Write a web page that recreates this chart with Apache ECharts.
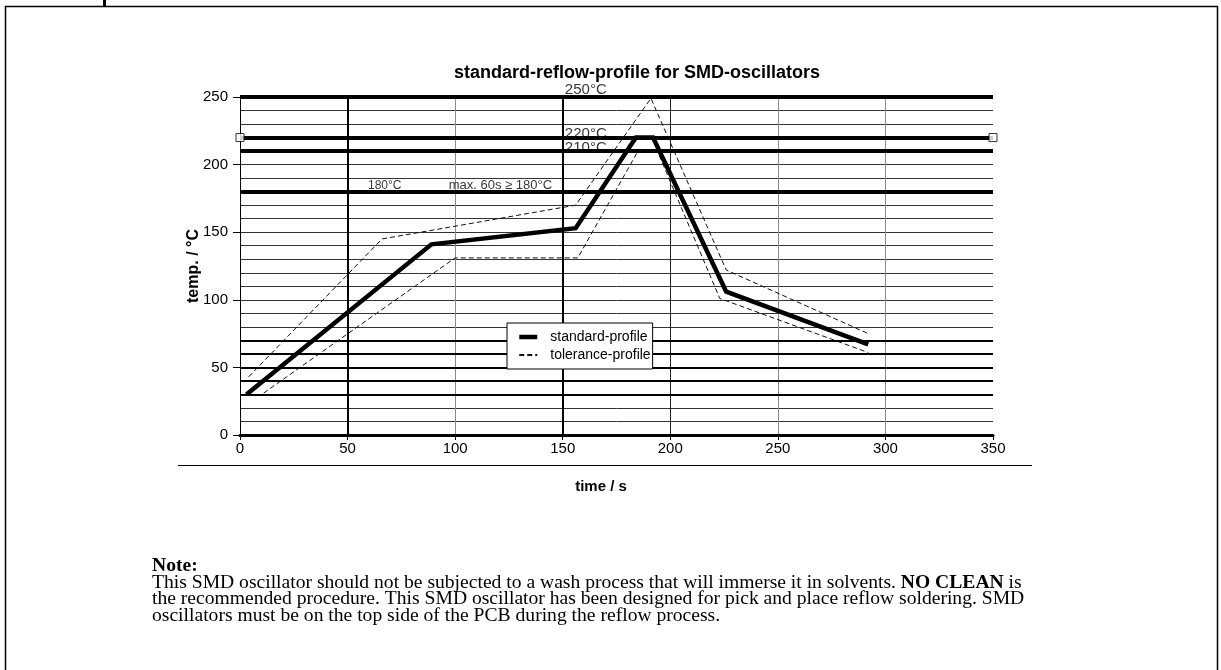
<!DOCTYPE html>
<html><head><meta charset="utf-8">
<script src="https://cdn.jsdelivr.net/npm/echarts@6/dist/echarts.min.js"></script>
<style>html,body{margin:0;padding:0;background:#fff}#c{width:1221px;height:670px}</style>
</head><body><div id="c"></div>
<script>
// ---- data ----
const timeStd  = [3, 89, 156, 184, 192, 226, 292];
const tempStd  = [30, 141, 153, 220, 220, 106, 67];
const timeUpper = [4, 66, 156, 191, 226, 292];
const tempUpper = [43, 145, 170, 249, 122, 75];
const timeLower = [11, 100, 157, 185, 194, 223, 292];
const tempLower = [31, 131, 131, 210, 210, 101, 61];
const limitTemps = [250, 220, 210, 180];
const boldTemps = [70, 60, 50, 40, 30];
const boldTimes = [50, 150];
const markerTimes = [0, 350];
const markerTemp = 220;
const annoText = ['250°C', '220°C', '210°C', '180°C', 'max. 60s ≥ 180°C'];
const annoTime = [151, 151, 151, 59.5, 97];
const annoTemp = [250, 220, 210, 180, 180];
const seriesNames = ['standard-profile', 'tolerance-profile'];
const titleText = 'standard-reflow-profile for SMD-oscillators';
const yName = 'temp. / °C';
const xName = 'time / s';
const noteTitle = 'Note:';
const noteLines = [
  'This SMD oscillator should not be subjected to a wash process that will immerse it in solvents. ',
  'NO CLEAN',
  ' is',
  'the recommended procedure. This SMD oscillator has been designed for pick and place reflow soldering. SMD',
  'oscillators must be on the top side of the PCB during the reflow process.'
];

// ---- styles ----
const SANS = "'Liberation Sans',Arial,sans-serif";
const SERIF = "'Liberation Serif','Times New Roman',serif";
const xSplitColors = ['#000', '#000', '#8a8a8a', '#000', '#222', '#8a8a8a', '#8a8a8a', 'rgba(0,0,0,0)'];
const annoSizes = [15, 15, 15, 12, 13];
const annoOffsetY = [-7, -4, -3, -6, -6];
const NOTE_FONT = 19.6;
const STD_WIDTH = 4.5;

const zip = (a, b) => a.map((v, i) => [v, b[i]]);

const chart = echarts.init(document.getElementById('c'), null, {renderer: 'canvas'});
chart.setOption({
  animation: false,
  backgroundColor: '#fff',
  grid: {left: 240, right: 228, top: 97, bottom: 235},
  legend: {
    data: [
      {name: seriesNames[0], lineStyle: {width: STD_WIDTH}},
      {name: seriesNames[1]}
    ],
    orient: 'vertical',
    left: 507, top: 323, z: 20,
    backgroundColor: '#fff',
    borderColor: '#000', borderWidth: 1, borderRadius: 0,
    padding: [7, 2, 7, 10],
    itemGap: 4,
    itemWidth: 18, itemHeight: 14,
    itemStyle: {color: 'rgba(0,0,0,0)', borderWidth: 0},
    textStyle: {fontFamily: SANS, fontSize: 14, color: '#000', padding: [0, 0, 0, 8]}
  },
  xAxis: {
    type: 'value', min: 0, max: 350, interval: 50,
    axisLine: {show: true, lineStyle: {color: '#000', width: 3}},
    axisTick: {show: true, length: 5, lineStyle: {color: '#000', width: 1}},
    axisLabel: {fontFamily: SANS, fontSize: 15, color: '#000', margin: 6},
    splitLine: {show: true, showMaxLine: false, lineStyle: {color: xSplitColors, width: 1}}
  },
  yAxis: {
    type: 'value', min: 0, max: 250, interval: 50,
    name: yName, nameLocation: 'middle', nameGap: 38, nameMoveOverlap: false,
    nameTextStyle: {fontFamily: SANS, fontWeight: 'bold', fontSize: 16, color: '#000'},
    axisLine: {show: true, lineStyle: {color: '#000', width: 1}},
    axisTick: {show: true, length: 7, lineStyle: {color: '#000'}},
    axisLabel: {fontFamily: SANS, fontSize: 15, color: '#000', margin: 12},
    splitLine: {show: true, lineStyle: {color: '#333', width: 1}},
    minorTick: {show: false, splitNumber: 5},
    minorSplitLine: {show: true, lineStyle: {color: '#333', width: 1}}
  },
  series: [
    {
      name: 'grid-lines', type: 'line', data: [], silent: true, z: 1,
      markLine: {
        silent: true, symbol: ['none', 'none'], animation: false, z: 2,
        label: {show: false},
        lineStyle: {color: '#000', width: 4, type: 'solid'},
        data: limitTemps.map(v => ({yAxis: v}))
      }
    },
    {
      name: 'grid-lines-2', type: 'line', data: [], silent: true, z: 1,
      markLine: {
        silent: true, symbol: ['none', 'none'], animation: false, z: 2,
        label: {show: false},
        lineStyle: {color: '#000', width: 2, type: 'solid'},
        data: boldTemps.map(v => ({yAxis: v})).concat(boldTimes.map(v => ({xAxis: v})))
      }
    },
    {
      name: seriesNames[1], type: 'line', data: zip(timeUpper, tempUpper),
      symbol: 'none', z: 3,
      lineStyle: {color: '#111', width: 1, type: [5, 3]}, itemStyle: {color: '#111'}
    },
    {
      name: seriesNames[1], type: 'line', data: zip(timeLower, tempLower),
      symbol: 'none', z: 3,
      lineStyle: {color: '#111', width: 1, type: [5, 3]}, itemStyle: {color: '#111'}
    },
    {
      name: seriesNames[0], type: 'line', data: zip(timeStd, tempStd),
      symbol: 'none', z: 4,
      lineStyle: {color: '#000', width: STD_WIDTH, join: 'miter'}, itemStyle: {color: '#000'}
    },
    {
      name: 'markers', type: 'scatter', z: 5, clip: false, silent: true,
      data: markerTimes.map(t => [t, markerTemp]),
      symbol: 'rect', symbolSize: 8,
      itemStyle: {color: '#fff', borderColor: '#000', borderWidth: 1}
    },
    {
      name: 'annotations', type: 'scatter', z: 6, clip: false, silent: true,
      data: annoTime.map((t, i) => ({
        value: [t, annoTemp[i]],
        label: {formatter: annoText[i], fontSize: annoSizes[i], offset: [0, annoOffsetY[i]]}
      })),
      symbolSize: 0,
      label: {show: true, position: 'right', distance: 0, fontFamily: SANS, color: '#000'}
    }
  ],
  graphic: [
    {type: 'rect', shape: {x: 5.5, y: 6.5, width: 1212, height: 700}, style: {fill: 'none', stroke: '#000', lineWidth: 1.5}, z: -10},
    {type: 'rect', shape: {x: 103, y: 0, width: 3, height: 6}, style: {fill: '#000'}},
    {type: 'text', x: 637, y: 73, style: {text: titleText, font: "bold 18px " + SANS, fill: '#000', align: 'center', verticalAlign: 'middle'}},
    {type: 'line', shape: {x1: 178, y1: 465.5, x2: 1032, y2: 465.5}, style: {stroke: '#000', lineWidth: 1}},
    {type: 'text', x: 601, y: 487, style: {text: xName, font: "bold 15px " + SANS, fill: '#000', align: 'center', verticalAlign: 'middle'}},
    {type: 'text', x: 152, y: 566, style: {text: noteTitle, font: "bold " + NOTE_FONT + "px " + SERIF, fill: '#000', verticalAlign: 'middle'}},
    {type: 'text', x: 152, y: 582.5, style: {
      text: '{n|' + noteLines[0] + '}{b|' + noteLines[1] + '}{n|' + noteLines[2] + '}',
      verticalAlign: 'middle',
      rich: {n: {font: NOTE_FONT + "px " + SERIF, fill: '#000'}, b: {font: "bold " + NOTE_FONT + "px " + SERIF, fill: '#000'}}
    }},
    {type: 'text', x: 152, y: 599, style: {text: noteLines[3], font: NOTE_FONT + "px " + SERIF, fill: '#000', verticalAlign: 'middle'}},
    {type: 'text', x: 152, y: 615.5, style: {text: noteLines[4], font: NOTE_FONT + "px " + SERIF, fill: '#000', verticalAlign: 'middle'}}
  ]
});
</script>
</body></html>
